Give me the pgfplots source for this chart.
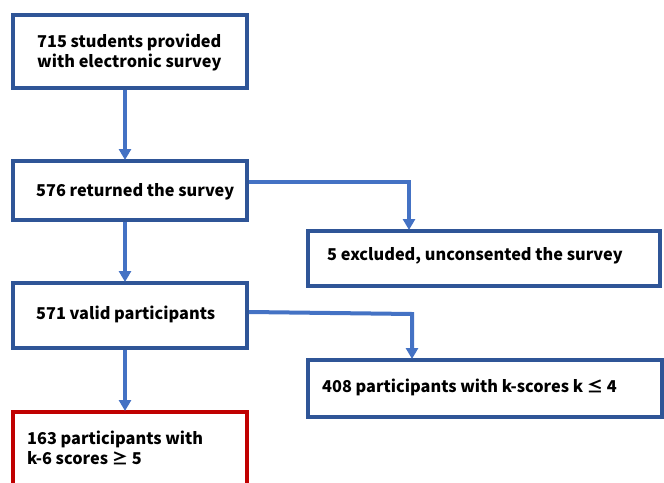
\documentclass[border=0pt]{standalone}
\usepackage{pgfplots}
\pgfplotsset{compat=1.18}
\usetikzlibrary{arrows.meta}
\usepackage{fontspec}
\setmainfont{Noto Sans CJK JP}
\definecolor{boxblue}{HTML}{2F5597}
\definecolor{arrowblue}{HTML}{4472C4}
\definecolor{boxred}{HTML}{C00000}
\begin{document}
\begin{tikzpicture}
\begin{axis}[scale only axis, width=664pt, height=482pt,
  xmin=0, xmax=664, ymin=0, ymax=482, y dir=reverse,
  hide axis, clip=true]
% boxes
\addplot[boxblue, line width=3.2pt, mark=none] coordinates {(13,15) (247,15) (247,88) (13,88) (13,15) (247,15)};
\addplot[boxblue, line width=3.2pt, mark=none] coordinates {(13,161) (247,161) (247,220) (13,220) (13,161) (247,161)};
\addplot[boxblue, line width=3.2pt, mark=none] coordinates {(308,231) (660,231) (660,286) (308,286) (308,231) (660,231)};
\addplot[boxblue, line width=3.2pt, mark=none] coordinates {(13,283) (247,283) (247,348) (13,348) (13,283) (247,283)};
\addplot[boxblue, line width=3.2pt, mark=none] coordinates {(308,360) (662,360) (662,417) (308,417) (308,360) (662,360)};
\addplot[boxred, line width=3.2pt, mark=none] coordinates {(13,495) (13,412) (247,412) (247,495)};
% arrows
\addplot[arrowblue, line width=4pt, mark=none, -{Triangle[length=11pt,width=12pt]}] coordinates {(125,90) (125,160)};
\addplot[arrowblue, line width=4pt, mark=none, -{Triangle[length=11pt,width=12pt]}] coordinates {(125,222) (125,282)};
\addplot[arrowblue, line width=4pt, mark=none, -{Triangle[length=11pt,width=12pt]}] coordinates {(125,350) (125,411)};
\addplot[arrowblue, line width=4pt, mark=none, -{Triangle[length=11pt,width=12pt]}] coordinates {(249,182) (409,182) (409,230)};
\addplot[arrowblue, line width=4pt, mark=none, -{Triangle[length=11pt,width=12pt]}] coordinates {(249,312) (412,314) (412,359)};
% texts
\node[anchor=west, align=left, font=\bfseries\fontsize{16.3}{20}\selectfont, inner sep=0pt] at (axis cs:37,53) {715 students provided\\with electronic survey};
\node[anchor=west, font=\bfseries\fontsize{16.3}{20}\selectfont, inner sep=0pt] at (axis cs:36,192) {576 returned the survey};
\node[anchor=west, font=\bfseries\fontsize{16.3}{20}\selectfont, inner sep=0pt] at (axis cs:327,256) {5 excluded, unconsented the survey};
\node[anchor=west, font=\bfseries\fontsize{16.3}{20}\selectfont, inner sep=0pt] at (axis cs:36,314) {571 valid participants};
\node[anchor=west, font=\bfseries\fontsize{16.3}{20}\selectfont, inner sep=0pt] at (axis cs:322,387) {408 participants with k-scores k ≤ 4};
\node[anchor=west, align=left, font=\bfseries\fontsize{16.3}{20}\selectfont, inner sep=0pt] at (axis cs:27,448) {163 participants with\\k-6 scores ≥ 5};
\end{axis}
\pgfresetboundingbox
\useasboundingbox (current axis.south west) rectangle (current axis.north east);
\end{tikzpicture}
\end{document}
